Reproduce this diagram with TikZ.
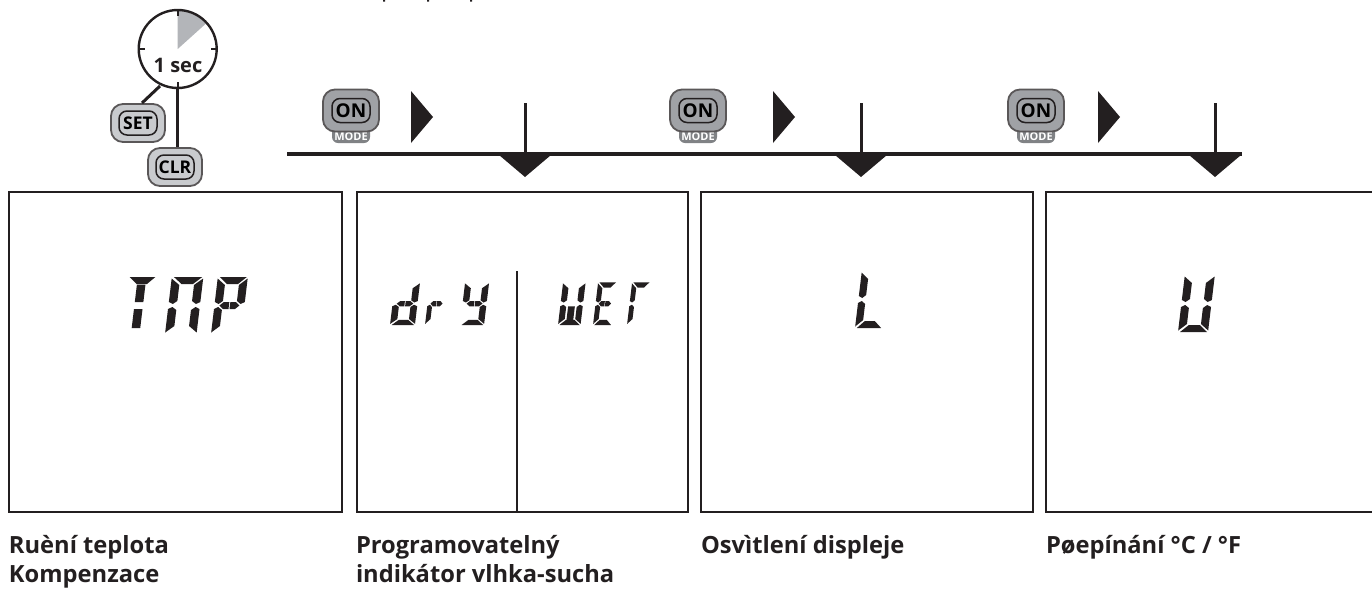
\documentclass[tikz,border=0pt]{standalone}
\usepackage{fontspec}
\setmainfont{Open Sans}
\definecolor{ink}{HTML}{231F20}
\definecolor{btn}{HTML}{C9CBCE}
\definecolor{btnd}{HTML}{A0A2A6}
\definecolor{tabc}{HTML}{808285}
\definecolor{pie}{HTML}{B3B5B9}
\newcommand\segA{\fill (2,57)--(29,57)--(21,50)--(10,50)--cycle;}
\newcommand\segF{\fill (0,55.5)--(8,49)--(8,33)--(4,30)--(0,32)--cycle;}
\newcommand\segB{\fill (30,55.5)--(30,32)--(26,30)--(22,33)--(22,49)--cycle;}
\newcommand\segG{\fill (5,28.5)--(9,32)--(14.5,32)--(14.5,25)--(9,25)--cycle;}
\newcommand\segH{\fill (15.5,32)--(21,32)--(25,28.5)--(21,25)--(15.5,25)--cycle;}
\newcommand\segE{\fill (0,25)--(4,27)--(8,24)--(8,8)--(0,1.5)--cycle;}
\newcommand\segC{\fill (30,25)--(30,1.5)--(22,8)--(22,24)--(26,27)--cycle;}
\newcommand\segD{\fill (2,0)--(10,7)--(21,7)--(29,0)--cycle;}
\newcommand\segU{\fill (10.5,49.5)--(19.5,49.5)--(19.5,32)--(10.5,32)--cycle;}
\newcommand\segL{\fill (10.5,25)--(19.5,25)--(19.5,6)--(10.5,6)--cycle;}
\newcommand\lcd[5]{\begin{scope}[shift={(#1,#2)},x=#3pt,y=#4pt,xslant=0.12,ink]
\foreach \s in {#5}{\csname seg\s\endcsname}\end{scope}}
\tikzset{
 panel/.style={draw=ink,line width=1.8pt,fill=white,minimum width=#1,minimum height=320pt,inner sep=0pt,outer sep=0pt,anchor=north west},
 panel/.default=333pt,
 lab/.style={anchor=base west,inner sep=0pt,outer sep=0pt,text=ink,font=\fontsize{23.7}{23.7}\selectfont\bfseries},
 rail/.style={draw=ink,line width=3.2pt},
 lead/.style={draw=ink,line width=3pt},
 tip/.style={fill=ink},
 keyout/.style={draw=ink!75,line width=1.8pt,fill=btn,rounded corners=12pt,minimum width=54pt,minimum height=38pt,inner sep=0pt},
 keyin/.style={draw=ink,line width=1.5pt,rounded corners=8pt,minimum width=38pt,minimum height=24pt,inner sep=0pt,text=black,font=\fontsize{17.5}{17.5}\selectfont\bfseries},
 onout/.style={keyout,fill=btnd,minimum width=56pt,minimum height=42pt},
 modetab/.style={fill=tabc,rounded corners=6pt,minimum width=38pt,minimum height=22pt,inner sep=0pt},
}
\begin{document}
\begin{tikzpicture}[x=1pt,y=-1pt]
\useasboundingbox (0,0) rectangle (1372,590);
% panels
\node[panel] (p1) at (9,192) {};
\node[panel=331pt] (p2) at (357,192) {};
\node[panel=332pt] (p3) at (701,192) {};
\node[panel=340pt] (p4) at (1046,192) {};
\coordinate (divt) at (517,271); \coordinate (divb) at (517,511);
\draw[ink,line width=1.6pt] (divt)--(divb);
% LCD
\lcd{121}{334}{.95}{1}{A,U,L}
\lcd{165}{334}{1.05}{1}{A,F,B,E,C}
\lcd{211}{334}{1.0}{1}{A,F,B,E,G,H}
\lcd{390}{325}{.83}{.75}{B,C,D,E,G,H}
\lcd{425}{325}{.6}{.75}{E,G,H}
\lcd{460}{325}{.8}{.75}{F,B,G,H,C,D}
\lcd{558}{325}{.75}{.75}{F,B,E,C,D,L}
\lcd{593}{325}{.62}{.75}{A,F,G,H,E,D}
\lcd{627}{325}{.6}{.75}{A,F,E}
\lcd{855}{328}{.9}{1}{F,E,D}
\lcd{1178}{332}{1.0}{1}{F,B,E,C,D}
% rail
\coordinate (ra) at (287,154); \coordinate (rb) at (1242,154);
\draw[rail] (ra)--(rb);
\foreach \n/\x/\on/\t in {a/525/351/411,b/861/698/773,c/1215/1036/1098}{
 \coordinate (v\n) at (\x,103); \coordinate (w\n) at (\x,156);
 \draw[lead] (v\n)--(w\n);
 \fill[tip] (\x-26,155)--(\x+26,155)--(\x,177)--cycle;
 \fill[tip] (\t,91)--(\t+22,117)--(\t,143)--cycle;
 \node[modetab] (m\n) at (\on,132) {};
 \node[text=white,font=\fontsize{11}{11}\selectfont\bfseries,inner sep=0pt] (t\n) at (\on,136.5) {MODE};
 \node[onout] (o\n) at (\on,110.5) {};
 \node[keyin,font=\fontsize{19}{19}\selectfont\bfseries] (i\n) at (\on,110.5) {ON};
}
% timer
\coordinate (ck) at (177.7,49);
\fill[pie] (ck)--(177.7,11) arc[start angle=90,end angle=42,radius=38pt]--cycle;
\node[draw=ink,line width=2.4pt,circle,minimum size=78pt,inner sep=0pt] (clock) at (ck) {};
\draw[ink,line width=1.8pt] (177.7,10)--(177.7,16) (139,49)--(145,49) (216.7,49)--(210.7,49) (177.7,88)--(177.7,82);
\node[text=ink,font=\fontsize{20}{20}\selectfont\bfseries,inner sep=0pt] (sec) at (178,65) {1 sec};
% keys
\node[keyout] (setk) at (138,123) {};
\node[keyin] (setl) at (138,123) {SET};
\node[keyout] (clrk) at (175,167) {};
\node[keyin] (clrl) at (175,167) {CLR};
\coordinate (c1) at (160,86); \coordinate (c2) at (142,103);
\coordinate (c3) at (177.7,88); \coordinate (c4) at (177.7,147);
\draw[lead] (c1)--(c2);
\draw[lead] (c3)--(c4);
% labels
\node[lab] (l1) at (9,553) {Ruèní teplota};
\node[lab] (l2) at (9,582) {Kompenzace};
\node[lab] (l3) at (356,553) {Programovatelný};
\node[lab] (l4) at (356,582) {indikátor vlhka-sucha};
\node[lab] (l5) at (701,553) {Osvìtlení displeje};
\node[lab] (l6) at (1046,553) {Pøepínání °C / °F};
% cropped descenders at the top edge
\fill[ink] (383,0) rectangle (385,1.5) (427,0) rectangle (429,1.5) (470,0) rectangle (472,1.5);
\end{tikzpicture}
\end{document}
